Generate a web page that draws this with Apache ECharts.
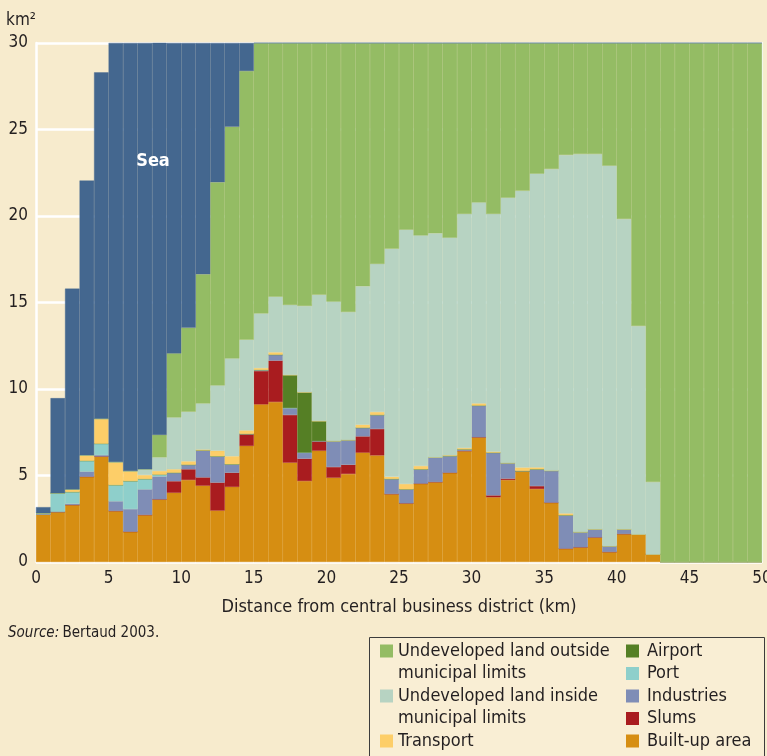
<!DOCTYPE html>
<html>
<head>
<meta charset="utf-8">
<script src="https://cdn.jsdelivr.net/npm/echarts@6/dist/echarts.min.js"></script>
<style>
html,body{margin:0;padding:0;background:#F7EBCD;}
#chart{width:767px;height:756px;}
</style>
</head>
<body>
<div id="chart"></div>
<script>
// ---- Data (km² of land per 1-km distance ring) ----
const distanceBins = Array.from({length: 50}, (_, i) => i + '–' + (i + 1));
const xTicks = [0, 5, 10, 15, 20, 25, 30, 35, 40, 45, 50];
const yTicks = [0, 5, 10, 15, 20, 25, 30];

const builtUp    = [2.75,2.9,3.3,4.93,6.1,2.95,1.75,2.72,3.62,4.0,4.74,4.41,2.97,4.34,6.71,9.11,9.25,5.74,4.68,6.43,4.87,5.09,6.32,6.16,3.93,3.39,4.53,4.62,5.16,6.42,7.21,3.74,4.74,5.26,4.22,3.43,0.77,0.85,1.42,0.58,1.62,1.59,0.44,0,0,0,0,0,0,0];
const slums      = [0,0,0,0,0,0,0,0,0,0.67,0.62,0.48,1.62,0.82,0.69,1.93,2.39,2.76,1.29,0.56,0.62,0.53,0.94,1.53,0,0,0,0,0,0,0,0.11,0.08,0,0.17,0,0,0,0,0,0,0,0,0,0,0,0,0,0,0];
const industries = [0,0,0.07,0.3,0.08,0.56,1.31,1.48,1.33,0.49,0.26,1.56,1.52,0.49,0,0.06,0.34,0.4,0.35,0,1.5,1.43,0.5,0.81,0.87,0.81,0.83,1.43,0.97,0.09,1.83,2.47,0.9,0,0.97,1.85,1.93,0.88,0.47,0.34,0.27,0,0,0,0,0,0,0,0,0];
const port       = [0.07,1.07,0.68,0.62,0.66,0.94,1.62,0.6,0.1,0,0,0,0,0,0,0,0,0,0,0,0,0,0,0,0,0,0,0,0,0,0,0,0,0,0,0,0,0,0,0,0,0,0,0,0,0,0,0,0,0];
const airport    = [0,0,0,0,0,0,0,0,0,0,0,0,0,0,0,0,0,1.91,3.49,1.16,0,0,0,0,0,0,0,0,0,0,0,0,0,0,0,0,0,0,0,0,0,0,0,0,0,0,0,0,0,0];
const transport  = [0,0,0.15,0.32,1.44,1.33,0.58,0.23,0.21,0.2,0.2,0.05,0.32,0.46,0.21,0.11,0.14,0,0,0,0,0,0.18,0.17,0.13,0.31,0.19,0,0.04,0.08,0.13,0.06,0,0.2,0.11,0,0.11,0,0,0,0,0,0,0,0,0,0,0,0,0];
const undevInside  = [0,0,0,0,0,0,0,0.33,0.79,3.0,2.87,2.67,3.78,5.66,5.24,3.16,3.22,4.05,4.99,7.3,8.06,7.4,8.0,8.56,13.18,14.7,13.33,12.95,12.58,13.53,11.62,13.74,15.34,16.0,16.98,17.44,20.72,21.85,21.69,21.99,17.94,12.05,4.18,0,0,0,0,0,0,0];
const undevOutside = [0,0,0,0,0,0,0,0,1.3,3.7,4.85,7.46,11.74,13.39,15.53,15.63,14.66,15.14,15.2,14.55,14.95,15.55,14.06,12.77,11.89,10.79,11.12,11.0,11.25,9.88,9.21,9.88,8.94,8.54,7.55,7.28,6.47,6.42,6.42,7.09,10.17,16.36,25.38,30,30,30,30,30,30,30];
const sea        = [0.35,5.5,11.6,15.88,20.02,24.22,24.74,24.64,22.66,17.94,16.46,13.37,8.05,4.84,1.62,0,0,0,0,0,0,0,0,0,0,0,0,0,0,0,0,0,0,0,0,0,0,0,0,0,0,0,0,0,0,0,0,0,0,0];

const seriesNames = ['Built-up area','Slums','Industries','Port','Airport','Transport',
  'Undeveloped land inside municipal limits','Undeveloped land outside municipal limits','Sea'];
const seriesData  = [builtUp, slums, industries, port, airport, transport, undevInside, undevOutside, sea];
const seriesColors = ['#D68E12','#A91C1F','#7F8DB6','#8ECFCB','#557F25','#FDCE68','#B7D3C2','#94BC64','#44678F'];

// legend layout (label lines, series index)
const legendCol1 = [
  ['Undeveloped land outside', 'municipal limits', 7],
  ['Undeveloped land inside', 'municipal limits', 6],
  ['Transport', null, 5]
];
const legendCol2 = [['Airport',4],['Port',3],['Industries',2],['Slums',1],['Built-up area',0]];

const FONT = "'Liberation Sans Narrow','DejaVu Sans Condensed',sans-serif";
const TXT = '#231F20';

const chart = echarts.init(document.getElementById('chart'), null, {renderer: 'canvas'});

const series = seriesData.map((d, i) => ({
  name: seriesNames[i],
  type: 'bar',
  stack: 'land',
  xAxisIndex: 0,
  yAxisIndex: 0,
  data: d,
  barWidth: '100%',
  barCategoryGap: '0%',
  itemStyle: {color: seriesColors[i], borderColor: seriesColors[i], borderWidth: 0.4},
  emphasis: {disabled: true},
  silent: true,
  animation: false
}));

// legend graphics
const legendEls = [];
const rowY = [651, 673.5, 696, 718.5, 741];
legendEls.push({type:'rect', shape:{x:369.5, y:637.5, width:395, height:130},
  style:{fill:'#F9EED4', stroke:'#3C3C3C', lineWidth:1}});
legendCol1.forEach((it, k) => {
  const r = k * 2;
  legendEls.push({type:'rect', shape:{x:380, y:rowY[r]-6.5, width:13, height:13}, style:{fill: seriesColors[it[2]]}});
  legendEls.push({type:'text', x:398, y:rowY[r], style:{text: it[0], font:'18px ' + FONT, fill:TXT, verticalAlign:'middle'}});
  if (it[1]) legendEls.push({type:'text', x:398, y:rowY[r+1], style:{text: it[1], font:'18px ' + FONT, fill:TXT, verticalAlign:'middle'}});
});
legendCol2.forEach((it, k) => {
  legendEls.push({type:'rect', shape:{x:626, y:rowY[k]-6.5, width:13, height:13}, style:{fill: seriesColors[it[1]]}});
  legendEls.push({type:'text', x:647, y:rowY[k], style:{text: it[0], font:'18px ' + FONT, fill:TXT, verticalAlign:'middle'}});
});

chart.setOption({
  backgroundColor: '#F7EBCD',
  animation: false,
  grid: {left: 36, right: 5, top: 43, bottom: 194, containLabel: false, outerBoundsMode: 'none'},
  xAxis: [
    {type:'category', data: distanceBins, show:false, boundaryGap:true},
    {type:'value', min: xTicks[0], max: xTicks[xTicks.length-1], interval: xTicks[1]-xTicks[0],
     position:'bottom',
     axisLine:{show:false}, axisTick:{show:false}, splitLine:{show:false},
     axisLabel:{fontFamily:FONT, fontSize:17, color:TXT, margin:8},
     name:'Distance from central business district (km)', nameLocation:'middle', nameGap:36,
     nameTextStyle:{fontFamily:FONT, fontSize:18, color:TXT}}
  ],
  yAxis: [
    {type:'value', min: yTicks[0], max: yTicks[yTicks.length-1], interval: yTicks[1]-yTicks[0],
     axisLine:{show:true, lineStyle:{color:'#FFFFFF', width:2.5}},
     axisTick:{show:false},
     splitLine:{show:true, lineStyle:{color:'#FFFFFF', width:2.5}},
     axisLabel:{fontFamily:FONT, fontSize:17, color:TXT, margin:8},
     name:'km²', nameLocation:'end', nameGap:14,
     nameTextStyle:{fontFamily:FONT, fontSize:17, color:TXT, align:'right', padding:[0,0,0,0]}},
    {type:'value', min: yTicks[0], max: yTicks[yTicks.length-1], position:'right',
     axisLine:{show:true, lineStyle:{color:'#FFFFFF', width:2}},
     axisTick:{show:false}, axisLabel:{show:false}, splitLine:{show:false}}
  ],
  series: series,
  graphic: [
    {type:'text', x:153, y:161, z:100, style:{text:'Sea', font:'bold 18px ' + FONT, fill:'#FFFFFF', align:'center', verticalAlign:'middle'}},
    {type:'text', x:8, y:633, style:{rich:{i:{fontStyle:'italic', fontFamily:FONT, fontSize:15, fill:TXT}, n:{fontFamily:FONT, fontSize:15, fill:TXT}}, text:'{i|Source:} {n|Bertaud 2003.}', verticalAlign:'middle'}},
    {type:'group', children: legendEls}
  ]
});
</script>
</body>
</html>
